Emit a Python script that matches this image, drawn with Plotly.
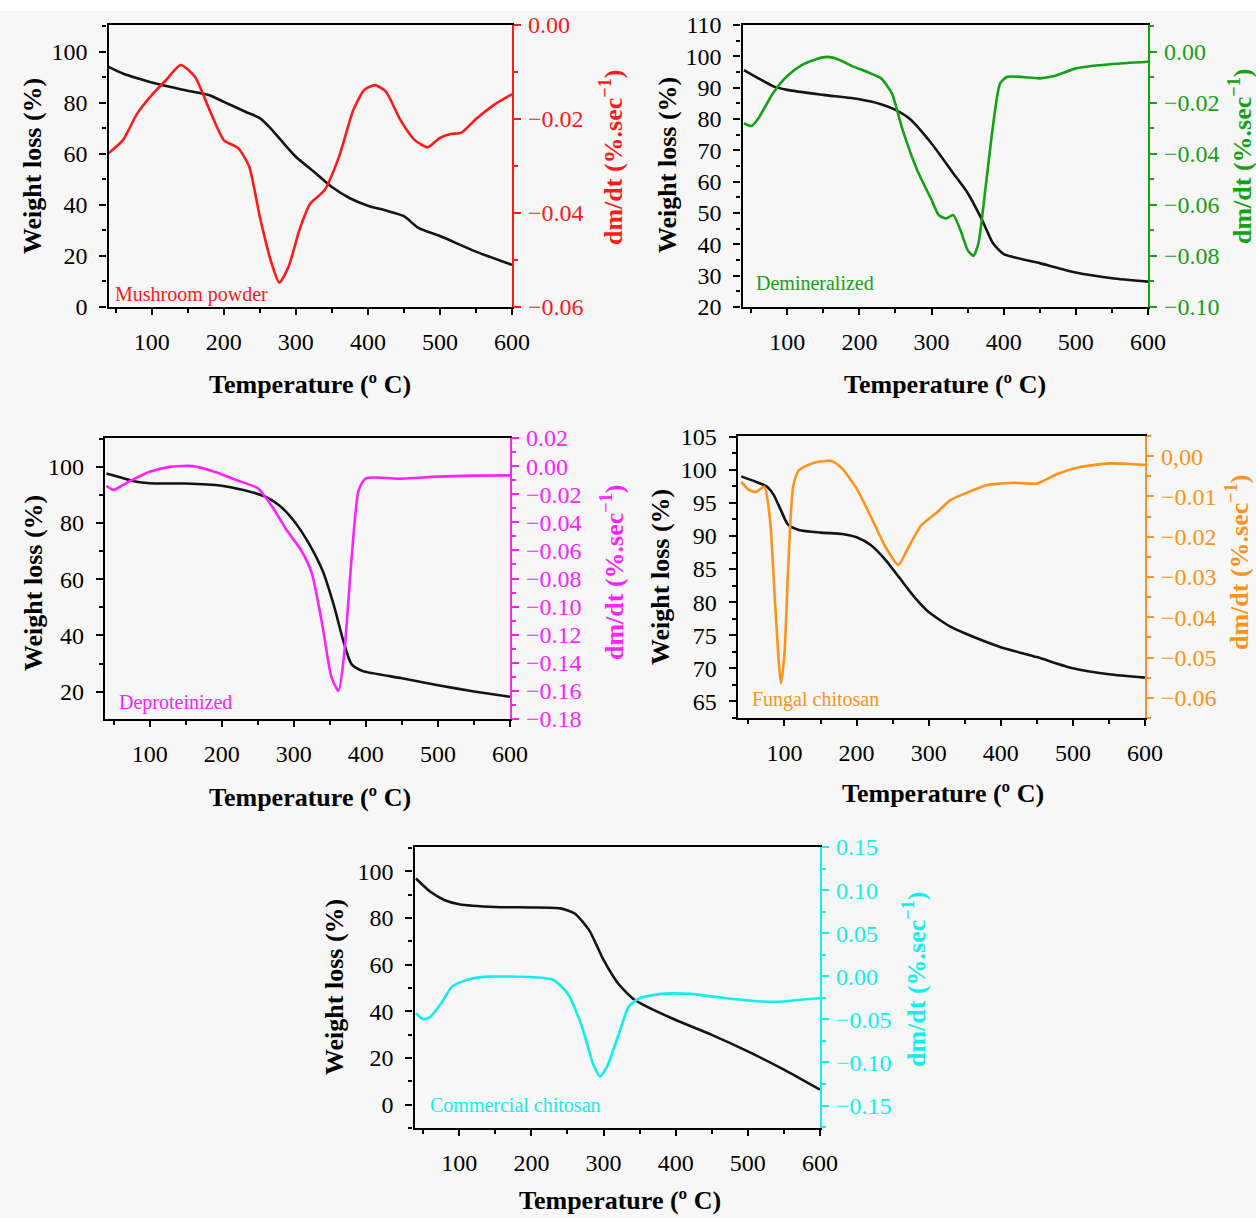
import plotly.graph_objects as go

# ---------------- data ----------------
# Mushroom powder
mp_t_tga = [40, 60, 80, 100, 130, 150, 180, 200, 230, 250, 265, 285, 300, 325, 350, 375, 400, 425, 450, 470, 500, 550, 600]
mp_w = [94.1, 91.5, 89.6, 88.0, 86.0, 84.7, 83.0, 80.4, 76.5, 74.0, 70.0, 63.5, 58.9, 53.0, 47.0, 42.6, 39.7, 37.8, 35.6, 31.0, 27.8, 21.7, 16.5]
mp_t_dtg = [40, 60, 80, 100, 120, 140, 160, 180, 200, 220, 235, 250, 265, 277, 290, 305, 320, 340, 360, 380, 395, 410, 425, 445, 465, 483, 500, 515, 530, 550, 575, 600]
mp_d = [-0.0273, -0.0245, -0.0188, -0.0149, -0.0117, -0.0085, -0.0110, -0.0180, -0.0245, -0.0262, -0.0300, -0.0408, -0.0500, -0.0548, -0.0514, -0.0436, -0.0380, -0.0351, -0.0280, -0.0180, -0.0138, -0.0128, -0.0142, -0.0202, -0.0245, -0.0260, -0.0240, -0.0232, -0.0229, -0.0200, -0.0170, -0.0147]

# Demineralized
dm_t_tga = [40, 60, 80, 100, 150, 200, 230, 250, 270, 300, 330, 350, 370, 385, 400, 450, 500, 550, 600]
dm_w = [95.6, 93.0, 90.5, 89.3, 87.7, 86.3, 84.7, 82.9, 80.0, 72.2, 62.7, 56.4, 47.8, 40.4, 36.9, 34.0, 31.0, 29.2, 28.1]
dm_t_dtg = [40, 50, 60, 80, 100, 120, 140, 155, 170, 190, 210, 230, 245, 260, 280, 300, 310, 320, 330, 340, 350, 358, 365, 375, 385, 395, 405, 450, 470, 500, 550, 600]
dm_d = [-0.0280, -0.0291, -0.0261, -0.0163, -0.0095, -0.0052, -0.0029, -0.0020, -0.0029, -0.0056, -0.0078, -0.0104, -0.0163, -0.0307, -0.0463, -0.0580, -0.0640, -0.0653, -0.0640, -0.0698, -0.0777, -0.0800, -0.0750, -0.0529, -0.0294, -0.0124, -0.0098, -0.0104, -0.0095, -0.0065, -0.0048, -0.0039]

# Deproteinized
dp_t_tga = [40, 60, 80, 100, 150, 200, 230, 260, 280, 300, 320, 340, 355, 370, 380, 395, 450, 500, 550, 600]
dp_w = [97.6, 96.2, 94.7, 94.1, 94.0, 93.2, 91.7, 89.4, 86.2, 80.8, 73.1, 63.0, 51.2, 36.9, 29.8, 27.4, 24.8, 22.3, 20.1, 18.2]
dp_t_dtg = [40, 50, 60, 80, 100, 130, 160, 190, 220, 250, 270, 290, 310, 325, 340, 352, 362, 370, 380, 390, 400, 450, 500, 550, 600]
dp_d = [-0.0142, -0.0170, -0.0142, -0.0087, -0.0040, -0.0004, 0.0000, -0.0040, -0.0099, -0.0158, -0.0289, -0.0455, -0.0597, -0.0763, -0.1143, -0.1499, -0.1600, -0.1332, -0.0668, -0.0170, -0.0087, -0.0090, -0.0075, -0.0068, -0.0066]

# Fungal chitosan
fc_t_tga = [40, 60, 75, 85, 95, 105, 120, 150, 180, 200, 220, 240, 260, 280, 300, 330, 350, 400, 450, 500, 550, 600]
fc_w = [99.0, 98.2, 97.5, 96.2, 93.9, 91.7, 90.9, 90.5, 90.3, 89.8, 88.6, 86.4, 83.6, 80.8, 78.5, 76.3, 75.3, 73.2, 71.7, 70.0, 69.1, 68.6]
fc_t_dtg = [40, 50, 60, 72, 80, 87, 95, 100, 105, 112, 120, 140, 165, 180, 200, 220, 240, 258, 270, 290, 310, 330, 350, 380, 400, 420, 450, 480, 510, 550, 575, 600]
fc_d = [-0.0064, -0.0083, -0.0089, -0.0076, -0.0159, -0.0366, -0.0564, -0.0490, -0.0283, -0.0076, -0.0035, -0.0017, -0.0012, -0.0031, -0.0080, -0.0151, -0.0225, -0.0270, -0.0233, -0.0171, -0.0142, -0.0109, -0.0093, -0.0072, -0.0068, -0.0066, -0.0068, -0.0043, -0.0027, -0.0018, -0.0019, -0.0022]

# Commercial chitosan
cc_t_tga = [40, 60, 80, 100, 150, 200, 240, 260, 280, 300, 320, 340, 360, 400, 450, 500, 550, 600]
cc_w = [96.9, 91.2, 87.6, 85.9, 84.7, 84.5, 84.1, 81.9, 74.8, 62.0, 52.0, 45.6, 42.0, 36.3, 29.9, 22.8, 15.0, 6.4]
cc_t_dtg = [40, 50, 60, 75, 90, 110, 140, 200, 230, 250, 270, 285, 295, 305, 320, 335, 350, 380, 420, 470, 520, 550, 580, 600]
cc_d = [-0.0428, -0.0497, -0.0470, -0.0312, -0.0120, -0.0042, -0.0004, -0.0010, -0.0040, -0.0196, -0.0583, -0.1006, -0.1161, -0.1045, -0.0698, -0.0351, -0.0254, -0.0204, -0.0204, -0.0254, -0.0293, -0.0293, -0.0266, -0.0254]

# tick labels
temp_ticks = [100, 200, 300, 400, 500, 600]
mp_w_ticks = [0, 20, 40, 60, 80, 100]
mp_d_ticks = [0.0, -0.02, -0.04, -0.06]
mp_d_text = ["0.00", "\u22120.02", "\u22120.04", "\u22120.06"]
dm_w_ticks = [20, 30, 40, 50, 60, 70, 80, 90, 100, 110]
dm_d_ticks = [0.0, -0.02, -0.04, -0.06, -0.08, -0.10]
dm_d_text = ["0.00", "\u22120.02", "\u22120.04", "\u22120.06", "\u22120.08", "\u22120.10"]
dp_w_ticks = [20, 40, 60, 80, 100]
dp_d_ticks = [0.02, 0.0, -0.02, -0.04, -0.06, -0.08, -0.10, -0.12, -0.14, -0.16, -0.18]
dp_d_text = ["0.02", "0.00", "\u22120.02", "\u22120.04", "\u22120.06", "\u22120.08", "\u22120.10",
             "\u22120.12", "\u22120.14", "\u22120.16", "\u22120.18"]
fc_w_ticks = [65, 70, 75, 80, 85, 90, 95, 100, 105]
fc_d_ticks = [0.0, -0.01, -0.02, -0.03, -0.04, -0.05, -0.06]
fc_d_text = ["0,00", "\u22120.01", "\u22120.02", "\u22120.03", "\u22120.04", "\u22120.05", "\u22120.06"]
cc_w_ticks = [0, 20, 40, 60, 80, 100]
cc_d_ticks = [0.15, 0.10, 0.05, 0.0, -0.05, -0.10, -0.15]
cc_d_text = ["0.15", "0.10", "0.05", "0.00", "\u22120.05", "\u22120.10", "\u22120.15"]

# ---------------- layout helpers ----------------
W, H = 1256, 1218
FONT = "Liberation Serif"
INK = "#000000"


def px(x):
    return x / W


def py(y):
    return 1 - y / H


# box = (left, right, top, bottom) in canvas pixels
panels = [
    dict(name="Mushroom powder", color="#ff1a1a", box=(108.5, 512, 25, 307), xr=(40, 600),
         t1=mp_t_tga, w=mp_w, t2=mp_t_dtg, d=mp_d,
         wr=(0, 110.5), wt=mp_w_ticks, wminor=10, dr=(-0.06, 0.0), dt=mp_d_ticks, dtx=mp_d_text, dminor=0.01,
         lab=(113, 294), xt=(310, 384), yl=(33, 166), yr=(612, 158)),
    dict(name="Demineralized", color="#16a016", box=(742.5, 1148, 25, 307), xr=(38, 600),
         t1=dm_t_tga, w=dm_w, t2=dm_t_dtg, d=dm_d,
         wr=(20, 110), wt=dm_w_ticks, wminor=5, dr=(-0.10, 0.0105), dt=dm_d_ticks, dtx=dm_d_text, dminor=0.01,
         lab=(754, 283), xt=(945, 384), yl=(667, 165), yr=(1240, 157)),
    dict(name="Deproteinized", color="#ff22ff", box=(105, 510, 438, 719), xr=(38, 600),
         t1=dp_t_tga, w=dp_w, t2=dp_t_dtg, d=dp_d,
         wr=(10.3, 110.2), wt=dp_w_ticks, wminor=10, dr=(-0.18, 0.02), dt=dp_d_ticks, dtx=dp_d_text, dminor=0.01,
         lab=(117, 702), xt=(310, 797), yl=(33, 583), yr=(612, 573)),
    dict(name="Fungal chitosan", color="#ff921a", box=(737.6, 1145, 436, 718), xr=(35, 600),
         t1=fc_t_tga, w=fc_w, t2=fc_t_dtg, d=fc_d,
         wr=(62.5, 105.1), wt=fc_w_ticks, wminor=2.5, dr=(-0.065, 0.005), dt=fc_d_ticks, dtx=fc_d_text, dminor=0.005,
         lab=(750, 699), xt=(943, 793), yl=(660, 577), yr=(1238, 563)),
    dict(name="Commercial chitosan", color="#11eeee", box=(414.5, 820, 847, 1128), xr=(38, 600),
         t1=cc_t_tga, w=cc_w, t2=cc_t_dtg, d=cc_d,
         wr=(-10, 110.4), wt=cc_w_ticks, wminor=10, dr=(-0.176, 0.15), dt=cc_d_ticks, dtx=cc_d_text, dminor=0.025,
         lab=(428, 1105), xt=(620, 1200), yl=(334, 987), yr=(914, 980)),
]

fig = go.Figure()
layout = {}
annotations = []
tick_font = dict(family=FONT, size=24, color=INK)
title_font = dict(family=FONT, size=26, color=INK)

for i, p in enumerate(panels):
    k = i + 1
    xa = "xaxis" if k == 1 else f"xaxis{k}"
    xr_ = "x" if k == 1 else f"x{k}"
    ya_l = 2 * k - 1
    ya_r = 2 * k
    yl_name = "yaxis" if ya_l == 1 else f"yaxis{ya_l}"
    yl_ref = "y" if ya_l == 1 else f"y{ya_l}"
    yr_name = f"yaxis{ya_r}"
    yr_ref = f"y{ya_r}"
    x0, x1, ytop, ybot = p["box"]

    layout[xa] = dict(
        domain=[px(x0), px(x1)], anchor=yl_ref, range=list(p["xr"]), automargin=False,
        showline=True, linecolor=INK, linewidth=2.2, mirror=True,
        ticks="outside", ticklen=6, tickwidth=2, tickcolor=INK,
        tickmode="array", tickvals=temp_ticks, ticklabelstandoff=6,
        minor=dict(ticks="outside", ticklen=4, tickwidth=2, tickcolor=INK, tick0=0, dtick=50),
        tickfont=tick_font, showgrid=False, zeroline=False,
    )
    layout[yl_name] = dict(
        domain=[py(ybot), py(ytop)], anchor=xr_, range=list(p["wr"]), automargin=False,
        showline=True, linecolor=INK, linewidth=2.2,
        ticks="outside", ticklen=7, tickwidth=2, tickcolor=INK,
        tickmode="array", tickvals=p["wt"], ticklabelstandoff=7,
        minor=dict(ticks="outside", ticklen=4, tickwidth=2, tickcolor=INK, tick0=0, dtick=p["wminor"]),
        tickfont=tick_font, showgrid=False, zeroline=False,
    )
    layout[yr_name] = dict(
        overlaying=yl_ref, side="right", anchor=xr_, range=list(p["dr"]), automargin=False,
        showline=True, linecolor=p["color"], linewidth=2.2,
        ticks="outside", ticklen=7, tickwidth=2, tickcolor=p["color"],
        tickmode="array", tickvals=p["dt"], ticktext=p["dtx"], ticklabelstandoff=2,
        minor=dict(ticks="outside", ticklen=4, tickwidth=2, tickcolor=p["color"], tick0=0, dtick=p["dminor"]),
        tickfont=dict(family=FONT, size=24, color=p["color"]),
        showgrid=False, zeroline=False,
    )

    # weight-loss curve (left axis)
    fig.add_trace(go.Scatter(x=p["t1"], y=p["w"], xaxis=xr_, yaxis=yl_ref, mode="lines",
                             line=dict(color="#141414", width=2.6, shape="spline", smoothing=0.6),
                             showlegend=False, hoverinfo="skip"))
    # derivative curve (right axis)
    fig.add_trace(go.Scatter(x=p["t2"], y=p["d"], xaxis=xr_, yaxis=yr_ref, mode="lines",
                             line=dict(color=p["color"], width=2.6, shape="spline", smoothing=0.6),
                             showlegend=False, hoverinfo="skip"))

    # sample label inside the frame
    annotations.append(dict(text=p["name"], x=px(p["lab"][0]), y=py(p["lab"][1]), xref="paper", yref="paper",
                            xanchor="left", yanchor="middle", showarrow=False,
                            font=dict(family=FONT, size=20, color=p["color"])))
    # axis titles
    annotations.append(dict(text="<b>Temperature (\u00ba C)</b>", x=px(p["xt"][0]), y=py(p["xt"][1]),
                            xref="paper", yref="paper", xanchor="center", yanchor="middle",
                            showarrow=False, font=title_font))
    annotations.append(dict(text="<b>Weight loss (%)</b>", x=px(p["yl"][0]), y=py(p["yl"][1]),
                            xref="paper", yref="paper", xanchor="center", yanchor="middle",
                            textangle=-90, showarrow=False, font=title_font))
    annotations.append(dict(text="<b>dm/dt (%.sec<sup>\u22121</sup>)</b>", x=px(p["yr"][0]), y=py(p["yr"][1]),
                            xref="paper", yref="paper", xanchor="center", yanchor="middle",
                            textangle=-90, showarrow=False,
                            font=dict(family=FONT, size=26, color=p["color"])))

fig.update_layout(
    width=W, height=H, autosize=False,
    margin=dict(l=0, r=0, t=0, b=0, autoexpand=False),
    paper_bgcolor="#f7f7f7", plot_bgcolor="rgba(0,0,0,0)",
    annotations=annotations,
    shapes=[dict(type="rect", xref="paper", yref="paper", x0=0, x1=1, y0=py(11), y1=1,
                 fillcolor="white", line=dict(width=0), layer="below")],
    **layout,
)

fig.write_html("out.html")
